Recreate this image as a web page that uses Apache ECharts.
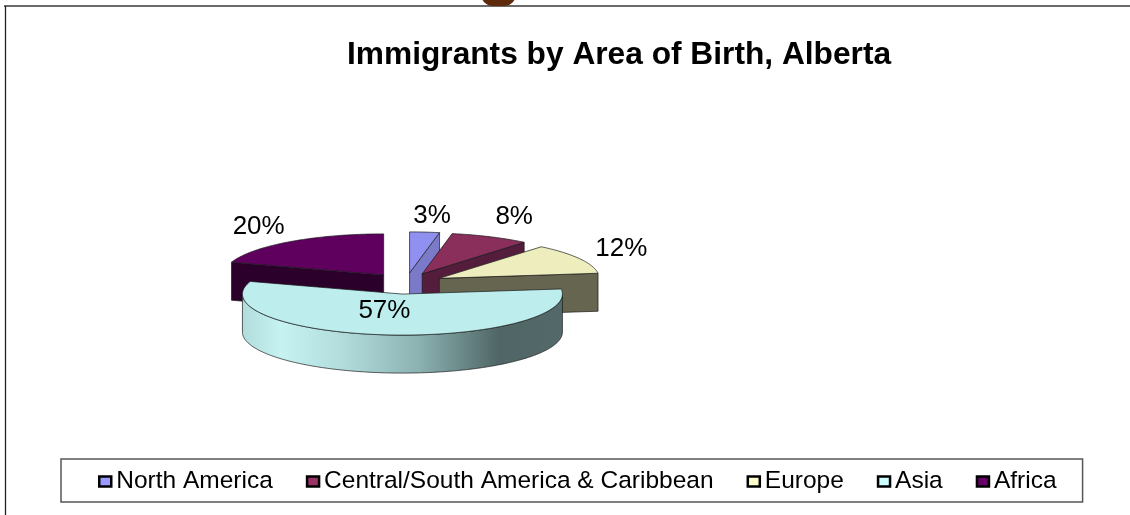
<!DOCTYPE html>
<html>
<head>
<meta charset="utf-8">
<style>
html, body { margin: 0; padding: 0; background: #fff; }
#main { width: 1130px; height: 515px; }
</style>
<script src="https://cdn.jsdelivr.net/npm/echarts@6/dist/echarts.min.js"></script>
</head>
<body>
<div id="main"></div>
<script>
"use strict";
const categories = ['North America', 'Central/South America & Caribbean', 'Europe', 'Asia', 'Africa'];
const shares = [3, 8, 12, 57, 20];
const topColors = ['#9090f0', '#8a2e5c', '#ededbe', '#bdeded', '#5f005f'];
const legendColors = ['#9999ff', '#993366', '#ffffcc', '#ccffff', '#660066'];
const wallColors = ['#7a7ac8', '#551d3c', '#666650', '#bdeded', '#2b002b'];

// pie geometry, fake 3d: squashed circle with a wall underneath
const CX = 406, CY = 283.5, RX = 160, RY = 41, DEPTH = 38, EXPLODE = 38, EXPLODE_SQUASH = 0.28;
// label offset from each slice's apex
const labelOffsets = [[22.5, -57], [92, -57], [182, -30], [-18, 17], [-125, -48]];

const total = shares.reduce((a, b) => a + b, 0);
const rad = d => d * Math.PI / 180;

function sliceAngles(i) {
    let before = 0;
    for (let k = 0; k < i; k++) {
        before += shares[k];
    }
    return [before / total * 360, (before + shares[i]) / total * 360];
}
function sliceApex(i) {
    const [a0, a1] = sliceAngles(i);
    const mid = rad((a0 + a1) / 2);
    return [CX + EXPLODE * Math.sin(mid), CY - EXPLODE * Math.cos(mid) * EXPLODE_SQUASH];
}
function rimPoint(apex, deg, drop = 0) {
    return [apex[0] + RX * Math.sin(rad(deg)), apex[1] - RY * Math.cos(rad(deg)) + drop];
}
function arcPoints(apex, a0, a1, drop = 0) {
    const pts = [];
    const steps = Math.max(2, Math.ceil(a1 - a0));
    for (let s = 0; s <= steps; s++) {
        pts.push(rimPoint(apex, a0 + (a1 - a0) * s / steps, drop));
    }
    return pts;
}
const edge = { stroke: '#1a1a1a', lineWidth: 0.7 };

function wallFill(i) {
    if (categories[i] !== 'Asia') {
        return wallColors[i];
    }
    return new echarts.graphic.LinearGradient(0, 0, 1, 0, [
        { offset: 0, color: '#b0dcdc' },
        { offset: 0.12, color: '#c6f2f2' },
        { offset: 0.3, color: '#b4dede' },
        { offset: 0.55, color: '#8cb2b2' },
        { offset: 0.8, color: '#506666' },
        { offset: 1, color: '#546a6a' }
    ]);
}

function renderSlice(i) {
    const [a0, a1] = sliceAngles(i);
    const apex = sliceApex(i);
    const children = [];
    const quad = deg => {
        const p = rimPoint(apex, deg);
        children.push({
            type: 'polygon',
            shape: { points: [apex, p, [p[0], p[1] + DEPTH], [apex[0], apex[1] + DEPTH]] },
            style: Object.assign({ fill: wallColors[i] }, edge)
        });
    };
    if (Math.sin(rad(a0)) < -0.01) quad(a0);
    if (Math.sin(rad(a1)) > 0.01) quad(a1);
    const f0 = Math.max(a0, 90), f1 = Math.min(a1, 270);
    if (f1 > f0) {
        children.push({
            type: 'polygon',
            shape: { points: arcPoints(apex, f0, f1).concat(arcPoints(apex, f0, f1, DEPTH).reverse()) },
            style: Object.assign({ fill: wallFill(i) }, edge)
        });
    }
    children.push({
        type: 'polygon',
        shape: { points: [apex].concat(arcPoints(apex, a0, a1)) },
        style: Object.assign({ fill: topColors[i] }, edge)
    });
    children.push({
        type: 'text',
        style: {
            text: shares[i] + '%',
            x: apex[0] + labelOffsets[i][0],
            y: apex[1] + labelOffsets[i][1],
            align: 'center',
            verticalAlign: 'middle',
            fill: '#000',
            fontSize: 26,
            fontFamily: 'Liberation Sans'
        },
        z2: 50
    });
    return { type: 'group', children };
}

// nearer slices get drawn over the ones behind
const depthRank = categories.map((c, i) => i).sort((a, b) => sliceApex(a)[1] - sliceApex(b)[1]);

const chart = echarts.init(document.getElementById('main'), null, { renderer: 'canvas' });
chart.setOption({
    animation: false,
    backgroundColor: '#fff',
    title: {
        text: 'Immigrants by Area of Birth, Alberta',
        left: 347,
        top: 39,
        padding: 0,
        textStyle: { fontFamily: 'Liberation Sans', fontWeight: 'bold', fontSize: 31.7, color: '#000' }
    },
    legend: {
        data: categories,
        left: 61,
        top: 459,
        orient: 'horizontal',
        icon: 'rect',
        itemWidth: 12,
        itemHeight: 10,
        itemGap: 33,
        padding: [10, 26, 8, 37],
        borderColor: '#555',
        borderWidth: 1.5,
        selectedMode: false,
        itemStyle: { borderColor: '#000', borderWidth: 2.5 },
        textStyle: { fontFamily: 'Liberation Sans', fontSize: 24.5, color: '#000', padding: 0 }
    },
    graphic: [
        { type: 'line', shape: { x1: 4, y1: 6, x2: 1130, y2: 6 }, style: { stroke: '#6a6a6a', lineWidth: 2 } },
        { type: 'line', shape: { x1: 5.5, y1: 6, x2: 5.5, y2: 515 }, style: { stroke: '#222', lineWidth: 1.3 } },
        { type: 'rect', shape: { x: 481, y: -30, width: 35, height: 36, r: 12 }, style: { fill: '#5e2a0c' } }
    ],
    series: categories.map((name, i) => ({
        type: 'custom',
        name,
        coordinateSystem: 'none',
        silent: true,
        z: 2 + depthRank.indexOf(i),
        itemStyle: { color: legendColors[i] },
        data: [shares[i]],
        renderItem: () => renderSlice(i)
    }))
});
</script>
</body>
</html>
